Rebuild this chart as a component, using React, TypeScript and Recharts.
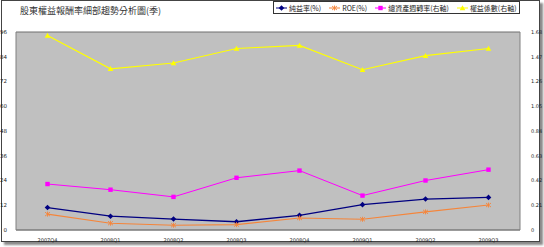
import React from 'react';
import { LineChart, Line, XAxis, YAxis, CartesianGrid, Legend } from 'recharts';

const quarters = ['2007Q4', '2008Q1', '2008Q2', '2008Q3', '2008Q4', '2009Q1', '2009Q2', '2009Q3'];
const netMargin = [10.9, 6.7, 5.3, 4.0, 7.1, 12.3, 15.0, 15.8];
const roe = [7.7, 3.3, 2.3, 2.6, 5.8, 5.2, 8.8, 12.1];
const assetTurnover = [0.39, 0.342, 0.281, 0.443, 0.504, 0.292, 0.42, 0.512];
const equityMultiplier = [1.65, 1.367, 1.417, 1.54, 1.566, 1.36, 1.479, 1.54];

const leftTicks = [0, 12, 24, 36, 48, 60, 72, 84, 96];
const rightTicks = [0, 0.21, 0.42, 0.63, 0.84, 1.05, 1.26, 1.47, 1.68];

const chartData = quarters.map((q, i) => ({
  q,
  net: netMargin[i],
  roe: roe[i],
  turn: assetTurnover[i],
  eq: equityMultiplier[i],
}));

const FONT = '"Noto Sans CJK TC", "Noto Sans", sans-serif';

// marker shapes
const Diamond = ({ cx, cy, color }: any) => (
  <path d={`M${cx},${cy - 2.8} L${cx + 2.8},${cy} L${cx},${cy + 2.8} L${cx - 2.8},${cy} Z`} fill={color} />
);
const Cross = ({ cx, cy, color }: any) => (
  <path
    d={`M${cx - 2.5},${cy - 2} L${cx + 2.5},${cy + 2} M${cx - 2.5},${cy + 2} L${cx + 2.5},${cy - 2} M${cx},${cy - 2.5} L${cx},${cy + 2.5}`}
    stroke={color}
    strokeWidth={0.9}
    fill="none"
  />
);
const Square = ({ cx, cy, color }: any) => (
  <rect x={cx - 2.2} y={cy - 2.2} width={4.4} height={4.4} fill={color} />
);
const Triangle = ({ cx, cy, color }: any) => (
  <path d={`M${cx},${cy - 2.8} L${cx + 2.8},${cy + 2.2} L${cx - 2.8},${cy + 2.2} Z`} fill={color} />
);

const series = [
  { key: 'net', name: '純益率(%)', color: '#000080', axis: 'left', Shape: Diamond, width: 1.3 },
  { key: 'roe', name: 'ROE(%)', color: '#f5853a', axis: 'left', Shape: Cross, width: 1.1 },
  { key: 'turn', name: '總資產週轉率(右軸)', color: '#ff00ff', axis: 'right', Shape: Square, width: 1 },
  { key: 'eq', name: '權益係數(右軸)', color: '#ffff00', axis: 'right', Shape: Triangle, width: 1.2 },
];

const LegendBox = () => (
  <div
    style={{
      display: 'flex',
      alignItems: 'center',
      border: '1px solid #333',
      background: '#fff',
      height: 11,
      padding: '0 2px',
      fontFamily: FONT,
      fontSize: 7,
      color: '#222',
      whiteSpace: 'nowrap',
    }}
  >
    {series.map((s, i) => (
      <div key={s.key} style={{ display: 'flex', alignItems: 'center', marginRight: i < 3 ? 8 : 0 }}>
        <svg width={11} height={8} style={{ marginRight: 2 }}>
          <line x1={0} y1={4} x2={11} y2={4} stroke={s.color} strokeWidth={1} />
          <s.Shape cx={5.5} cy={4} color={s.color} />
        </svg>
        <span>{s.name}</span>
      </div>
    ))}
  </div>
);

const fmtRight = (v: number) => (v === 0 ? '0' : v.toFixed(2));

const App = () => {
  return (
    <div style={{ position: 'fixed', left: 0, top: 0, width: 544, height: 247, background: '#fff' }}>
      <div
        style={{
          position: 'absolute',
          left: 1,
          top: 0,
          width: 537,
          height: 240,
          border: '1px solid #444',
          boxShadow: '3px 3px 2px #8a8a8a',
        }}
      />
      <div
        style={{
          position: 'absolute',
          left: 20,
          top: 5,
          fontFamily: FONT,
          fontSize: 9,
          color: '#333',
          lineHeight: '12px',
        }}
      >
        股東權益報酬率細部趨勢分析圖(季)
      </div>
      <div style={{ position: 'absolute', left: 0, top: 0 }}>
        <LineChart width={544} height={247} data={chartData} margin={{ top: 19, right: 0, bottom: 0, left: 0 }}>
          <CartesianGrid vertical={false} fill="#c0c0c0" stroke="#6e6e6e" strokeWidth={1} />
          <XAxis
            dataKey="q"
            height={17}
            padding={{ left: 31.5, right: 31.5 }}
            tickLine={false}
            axisLine={{ stroke: '#808080' }}
            tick={{ fontSize: 5, fill: '#222', fontFamily: 'DejaVu Sans' }}
            interval={0}
          />
          <YAxis
            yAxisId="left"
            width={16}
            domain={[0, 96]}
            ticks={leftTicks}
            tickLine={false}
            axisLine={{ stroke: '#808080' }}
            tick={{ fontSize: 5.5, fill: '#222', fontFamily: 'DejaVu Sans' }}
            tickMargin={3}
          />
          <YAxis
            yAxisId="right"
            orientation="right"
            width={24}
            domain={[0, 1.68]}
            ticks={rightTicks}
            tickFormatter={fmtRight}
            tickLine={false}
            axisLine={{ stroke: '#808080' }}
            tick={{ fontSize: 5, fill: '#222', fontFamily: 'DejaVu Sans' }}
            tickMargin={5}
          />
          <Legend
            verticalAlign="top"
            content={() => <LegendBox />}
            wrapperStyle={{ position: 'absolute', left: 273, top: 1, width: 'auto' }}
          />
          {series.map((s) => (
            <Line
              key={s.key}
              yAxisId={s.axis}
              dataKey={s.key}
              name={s.name}
              stroke={s.color}
              strokeWidth={s.width}
              isAnimationActive={false}
              dot={(p: any) => <s.Shape key={`${s.key}-${p.index}`} cx={p.cx} cy={p.cy} color={s.color} />}
              activeDot={false}
            />
          ))}
        </LineChart>
      </div>
    </div>
  );
};

export default App;
